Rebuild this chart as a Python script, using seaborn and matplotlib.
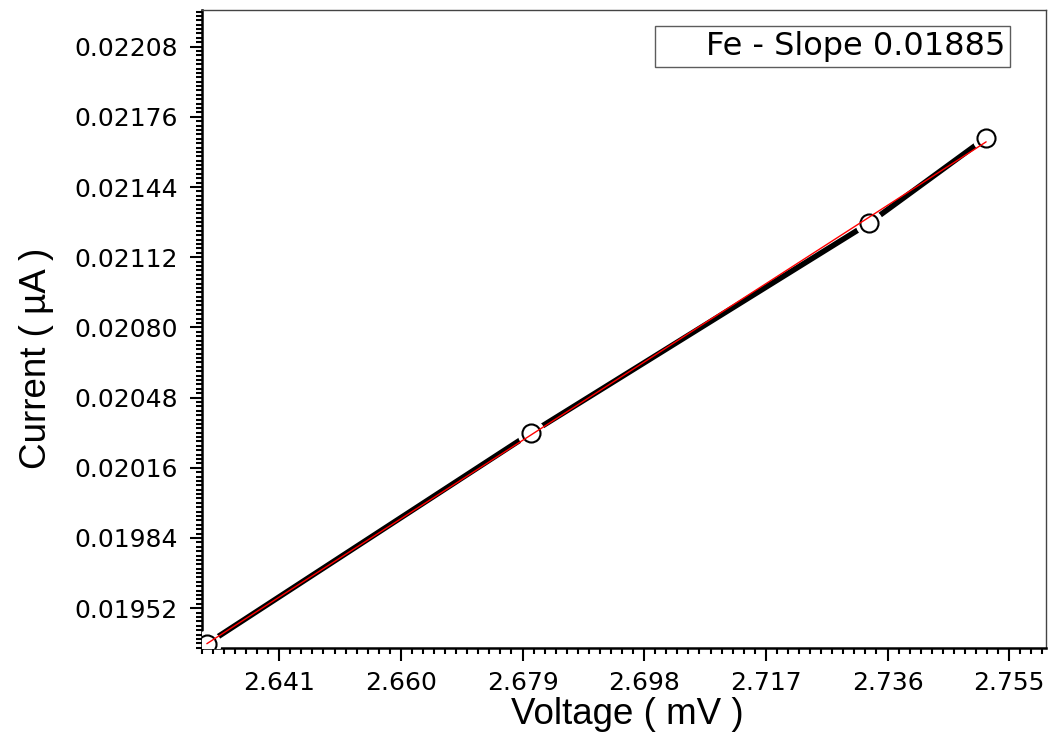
import numpy as np
import pandas as pd
import matplotlib
matplotlib.use('Agg')
import matplotlib.pyplot as plt
import seaborn as sns
from matplotlib.ticker import FixedLocator, AutoMinorLocator, FormatStrFormatter
from matplotlib.lines import Line2D

# valores
voltage = [2.6297, 2.6804, 2.7331, 2.7514]
current = [0.019357, 0.020320, 0.021275, 0.021665]
x_ticks = [2.641, 2.660, 2.679, 2.698, 2.717, 2.736, 2.755]
y_ticks = [0.01952, 0.01984, 0.02016, 0.02048, 0.02080, 0.02112, 0.02144, 0.02176, 0.02208]
legenda = 'Fe - Slope 0.01885'

df = pd.DataFrame({'voltage': voltage, 'current': current})

sns.set_style('ticks')
plt.rcParams['font.family'] = ['DejaVu Sans']
plt.rcParams['text.color'] = 'black'
plt.rcParams['axes.labelcolor'] = 'black'

fig = plt.figure(figsize=(10.54, 7.56), dpi=100)
ax = fig.add_axes([0.1914, 0.1433, 0.8007, 0.8435])

sns.lineplot(x='voltage', y='current', data=df, color='black', linewidth=4, ax=ax, zorder=2)
ax.plot(df.voltage, df.current, 'o', ms=19, mfc='white', mec='white', zorder=3)
ax.plot(df.voltage, df.current, 'o', ms=13, mfc='white', mec='black', mew=1.5, zorder=4)
sns.regplot(x='voltage', y='current', data=df, scatter=False, ci=None, color='red',
            line_kws={'linewidth': 1, 'zorder': 5}, ax=ax)

ax.set_xlim(2.6289, 2.7607)
ax.set_ylim(0.019340, 0.022247)
ax.xaxis.set_major_locator(FixedLocator(x_ticks))
ax.yaxis.set_major_locator(FixedLocator(y_ticks))
ax.xaxis.set_major_formatter(FormatStrFormatter('%.3f'))
ax.yaxis.set_major_formatter(FormatStrFormatter('%.5f'))
ax.xaxis.set_minor_locator(AutoMinorLocator(11))
ax.yaxis.set_minor_locator(AutoMinorLocator(16))

ax.tick_params(which='major', direction='out', length=9, width=1.5, labelsize=18, color='black',
               labelcolor='black')
ax.tick_params(which='minor', direction='out', length=4.5, width=1.5, color='black')
ax.tick_params(axis='x', which='major', pad=8)
ax.tick_params(axis='y', which='major', pad=8)

for s in ['left', 'bottom']:
    ax.spines[s].set_linewidth(1.8)
    ax.spines[s].set_color('black')
for s in ['top', 'right']:
    ax.spines[s].set_linewidth(1)
    ax.spines[s].set_color('#444444')

ax.set_xlabel('Voltage ( mV )', fontsize=26.5, family='Liberation Sans')
ax.set_ylabel('Current ( µA )', fontsize=26.5, family='Liberation Sans')
ax.xaxis.set_label_coords(0.5046, -0.077)
ax.yaxis.set_label_coords(-0.175, 0.454)

h = Line2D([], [], alpha=0)
leg = ax.legend([h], [legenda], loc='upper right', bbox_to_anchor=(0.9577, 0.9749),
                borderaxespad=0, fontsize=23, frameon=True, fancybox=False,
                handlelength=1.2, handletextpad=0.25, borderpad=0.15)
leg.get_frame().set_edgecolor('#333333')
leg.get_frame().set_linewidth(1)

fig.savefig('out.png', dpi=100)
